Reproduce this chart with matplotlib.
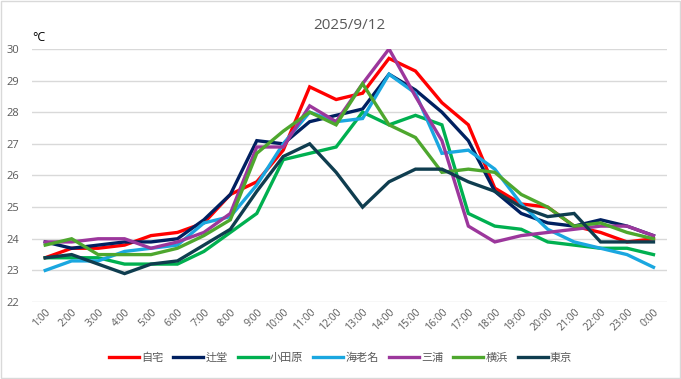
import matplotlib.pyplot as plt
from matplotlib.patches import Rectangle
import numpy as np

plt.rcParams['font.family'] = ['Open Sans', 'Noto Sans CJK JP']

hours = ['1:00', '2:00', '3:00', '4:00', '5:00', '6:00', '7:00', '8:00',
         '9:00', '10:00', '11:00', '12:00', '13:00', '14:00', '15:00', '16:00',
         '17:00', '18:00', '19:00', '20:00', '21:00', '22:00', '23:00', '0:00']

jitaku = [23.4, 23.7, 23.7, 23.8, 24.1, 24.2, 24.5, 25.4, 25.8, 26.8, 28.8, 28.4,
          28.6, 29.7, 29.3, 28.3, 27.6, 25.6, 25.1, 25.0, 24.4, 24.2, 23.9, 24.0]
tsujido = [23.9, 23.7, 23.8, 23.9, 23.9, 24.0, 24.6, 25.4, 27.1, 27.0, 27.7, 27.9,
           28.1, 29.2, 28.7, 28.0, 27.1, 25.5, 24.8, 24.5, 24.4, 24.6, 24.4, 24.1]
odawara = [23.4, 23.4, 23.4, 23.2, 23.2, 23.2, 23.6, 24.2, 24.8, 26.5, 26.7, 26.9,
           28.0, 27.6, 27.9, 27.6, 24.8, 24.4, 24.3, 23.9, 23.8, 23.7, 23.7, 23.5]
ebina = [23.0, 23.3, 23.3, 23.6, 23.7, 23.8, 24.5, 24.7, 25.7, 27.0, 28.0, 27.7,
         27.8, 29.2, 28.6, 26.7, 26.8, 26.2, 25.1, 24.3, 23.9, 23.7, 23.5, 23.1]
miura = [23.9, 23.9, 24.0, 24.0, 23.7, 23.9, 24.2, 24.8, 26.9, 26.9, 28.2, 27.7,
         28.9, 30.0, 28.5, 27.1, 24.4, 23.9, 24.1, 24.2, 24.3, 24.4, 24.4, 24.1]
yokohama = [23.8, 24.0, 23.5, 23.5, 23.5, 23.7, 24.1, 24.6, 26.7, 27.4, 28.0, 27.6,
            28.9, 27.6, 27.2, 26.1, 26.2, 26.1, 25.4, 25.0, 24.4, 24.5, 24.2, 24.0]
tokyo = [23.4, 23.5, 23.2, 22.9, 23.2, 23.3, 23.8, 24.3, 25.5, 26.6, 27.0, 26.1,
         25.0, 25.8, 26.2, 26.2, 25.8, 25.5, 25.0, 24.7, 24.8, 23.9, 23.9, 23.9]

series = [('自宅', jitaku, '#FF0000'),
          ('辻堂', tsujido, '#002060'),
          ('小田原', odawara, '#00B050'),
          ('海老名', ebina, '#1AA7E0'),
          ('三浦', miura, '#9C379C'),
          ('横浜', yokohama, '#4EA72E'),
          ('東京', tokyo, '#0F3D4F')]

fig = plt.figure(figsize=(6.81, 3.79), dpi=100)
ax = fig.add_axes([0.047, 0.203, 0.932, 0.668])

x = np.arange(len(hours))
for name, vals, col in series:
    ax.plot(x, vals, color=col, linewidth=2.4, label=name, solid_joinstyle='miter')

ax.set_xlim(-0.5, len(hours) - 0.5)
ax.set_ylim(22, 30)
ax.set_yticks(range(22, 31))
ax.yaxis.grid(True, color='#D9D9D9', linewidth=1)
ax.set_axisbelow(True)
for s in ax.spines.values():
    s.set_visible(False)
ax.tick_params(axis='both', length=0, colors='#595959', labelsize=8)
ax.tick_params(axis='y', pad=9)
ax.set_xticks(x)
ax.set_xticklabels(hours, rotation=45, ha='right', rotation_mode='anchor', fontsize=7.5)

ax.set_title('2025/9/12', color='#595959', fontsize=11, pad=14)
fig.text(0.047, 0.902, '°C', fontsize=9, color='black', ha='left', va='center')

fig.legend(loc='center', bbox_to_anchor=(0.5, 0.055), ncol=7, frameon=False,
           fontsize=8, handlelength=2.7, columnspacing=0.9, handletextpad=0.2,
           labelcolor='#595959')

fig.patches.append(Rectangle((0.001, 0.002), 0.997, 0.995, transform=fig.transFigure,
                             fill=False, edgecolor='#D9D9D9', linewidth=1))

fig.savefig('out.png', dpi=100)
